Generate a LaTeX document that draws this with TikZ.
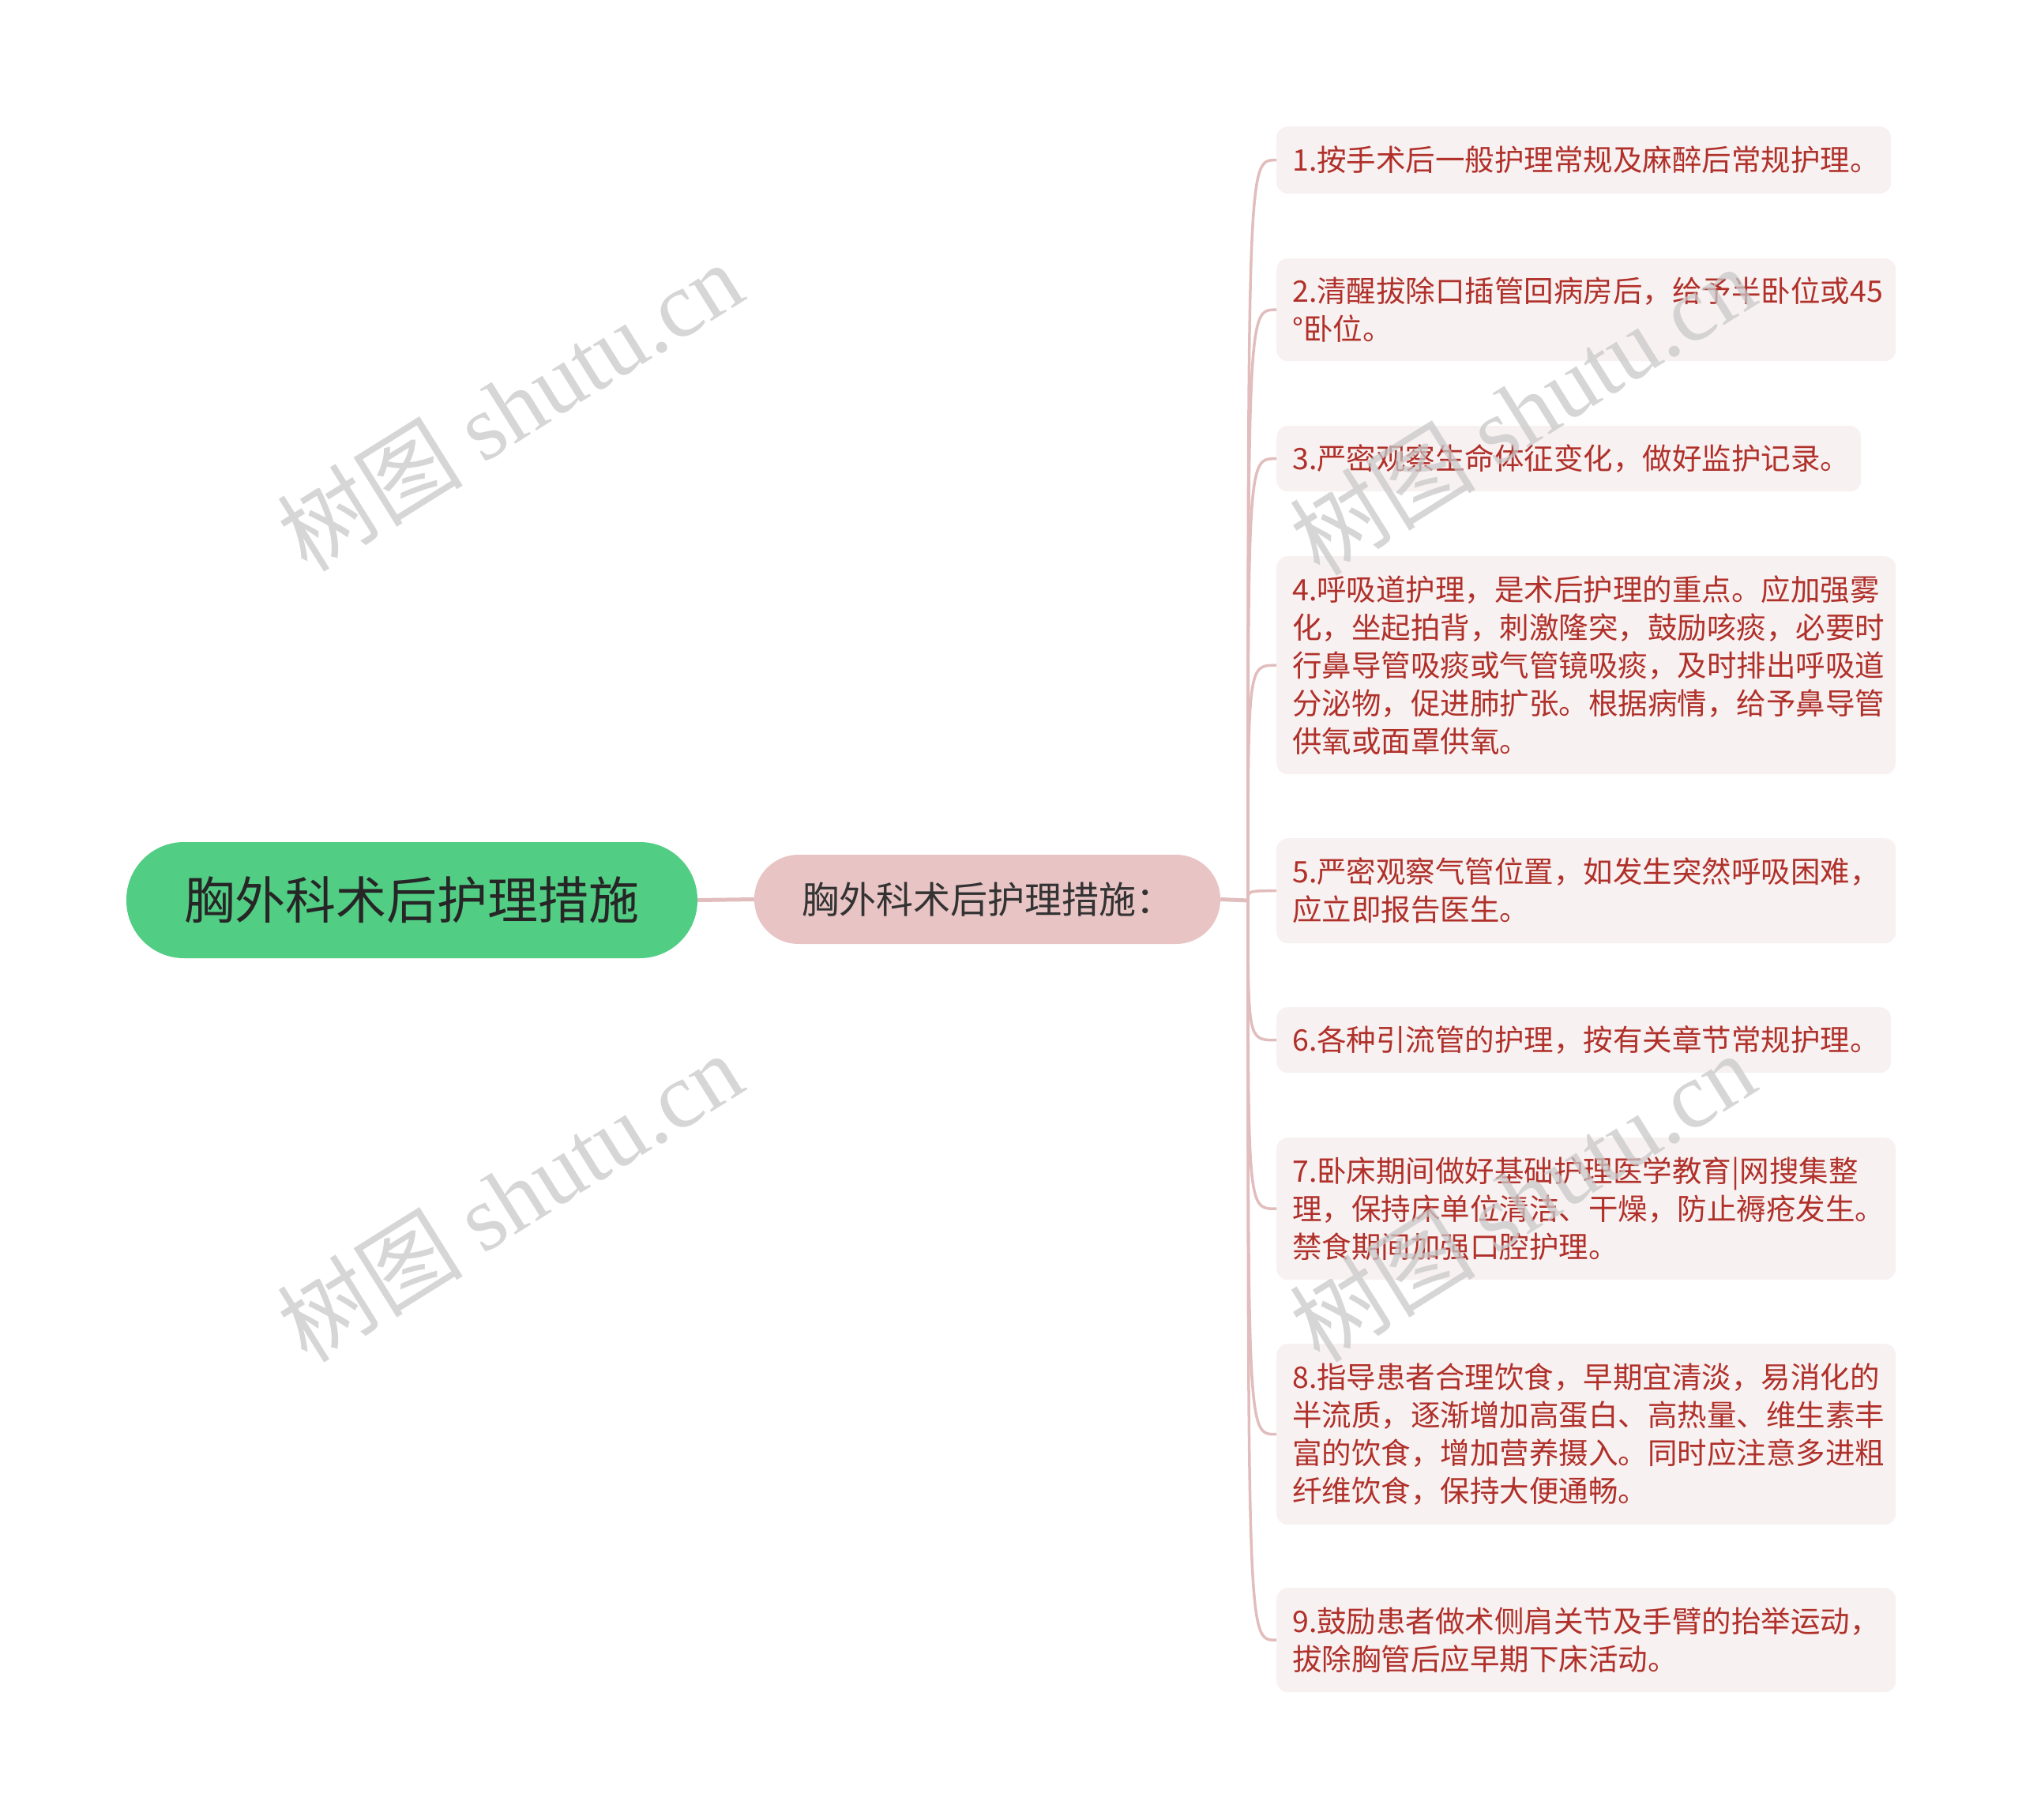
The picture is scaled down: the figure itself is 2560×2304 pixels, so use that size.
\documentclass[tikz,border=0pt]{standalone}
\usepackage{fontspec}
\setmainfont{Noto Sans CJK SC}
\newfontfamily\cjk{Noto Sans CJK SC}
\newfontfamily\wmserif{Liberation Serif}
\definecolor{rootg}{HTML}{52CD84}
\definecolor{subp}{HTML}{E8C4C4}
\definecolor{leafbg}{HTML}{F8F1F1}
\definecolor{leaftext}{HTML}{B0302A}
\definecolor{conn}{HTML}{E2BDBD}
\definecolor{wmgray}{HTML}{C8C8C8}
\tikzset{
  rootbox/.style={rectangle, rounded corners=73pt, fill=rootg, text=black!85, minimum width=723pt, minimum height=147pt, inner sep=0pt, font=\fontsize{64}{76}\selectfont},
  subbox/.style={rectangle, rounded corners=56pt, fill=subp, text=black!80, minimum width=590pt, minimum height=113pt, inner sep=0pt, font=\fontsize{47}{56}\selectfont},
  leafbox/.style={rectangle, rounded corners=14pt, fill=leafbg, text=leaftext, align=left, inner xsep=20pt, inner ysep=0pt, anchor=north west, font=\fontsize{37.5}{48}\selectfont},
  link/.style={draw=conn, line width=5pt},
  branch/.style={draw=conn, line width=3.5pt},
  wm/.style={text=wmgray, opacity=0.75, rotate=32, font=\fontsize{118}{130}\selectfont}
}
\begin{document}
\begin{tikzpicture}[x=1pt,y=-1pt]
\useasboundingbox (0,0) rectangle (2560,2304);
\node[rootbox] (root) at (521.5,1139.5) {胸外科术后护理措施};
\node[subbox] (sub) at (1250,1138.5) {胸外科术后护理措施：};
\coordinate (J) at (1580,1140);

\node[leafbox, text width=738pt, minimum height=85pt] (l1) at (1616,160) {1.按手术后一般护理常规及麻醉后常规护理。};
\node[leafbox, text width=744pt, minimum height=130pt] (l2) at (1616,327) {2.清醒拔除口插管回病房后，给予半卧位或45\\°卧位。};
\node[leafbox, text width=700pt, minimum height=83pt] (l3) at (1616,539) {3.严密观察生命体征变化，做好监护记录。};
\node[leafbox, text width=744pt, minimum height=276pt] (l4) at (1616,704) {4.呼吸道护理，是术后护理的重点。应加强雾\\化，坐起拍背，刺激隆突，鼓励咳痰，必要时\\行鼻导管吸痰或气管镜吸痰，及时排出呼吸道\\分泌物，促进肺扩张。根据病情，给予鼻导管\\供氧或面罩供氧。};
\node[leafbox, text width=744pt, minimum height=133pt] (l5) at (1616,1061) {5.严密观察气管位置，如发生突然呼吸困难，\\应立即报告医生。};
\node[leafbox, text width=738pt, minimum height=83pt] (l6) at (1616,1275) {6.各种引流管的护理，按有关章节常规护理。};
\node[leafbox, text width=744pt, minimum height=180pt] (l7) at (1616,1440) {7.卧床期间做好基础护理医学教育|网搜集整\\理，保持床单位清洁、干燥，防止褥疮发生。\\禁食期间加强口腔护理。};
\node[leafbox, text width=744pt, minimum height=229pt] (l8) at (1616,1701) {8.指导患者合理饮食，早期宜清淡，易消化的\\半流质，逐渐增加高蛋白、高热量、维生素丰\\富的饮食，增加营养摄入。同时应注意多进粗\\纤维饮食，保持大便通畅。};
\node[leafbox, text width=744pt, minimum height=132pt] (l9) at (1616,2010) {9.鼓励患者做术侧肩关节及手臂的抬举运动，\\拔除胸管后应早期下床活动。};

\draw[link] (root.east) -- (sub.west);
\draw[link] (sub.east) -- (J);
\foreach \n in {l1,l2,l3,l4,l5,l6,l7,l8,l9}{
  \path (\n.west) coordinate (t);
  \draw[branch] (J) .. controls (J |- t) .. ([xshift=-1pt]t) -- (t);
}

\node[wm] (w1) at (645,514) {{\cjk 树图} {\wmserif shutu.cn}};
\node[wm] (w2) at (645,1515) {{\cjk 树图} {\wmserif shutu.cn}};
\node[wm] (w3) at (1927,519) {{\cjk 树图} {\wmserif shutu.cn}};
\node[wm] (w4) at (1927,1515) {{\cjk 树图} {\wmserif shutu.cn}};
\end{tikzpicture}
\end{document}
